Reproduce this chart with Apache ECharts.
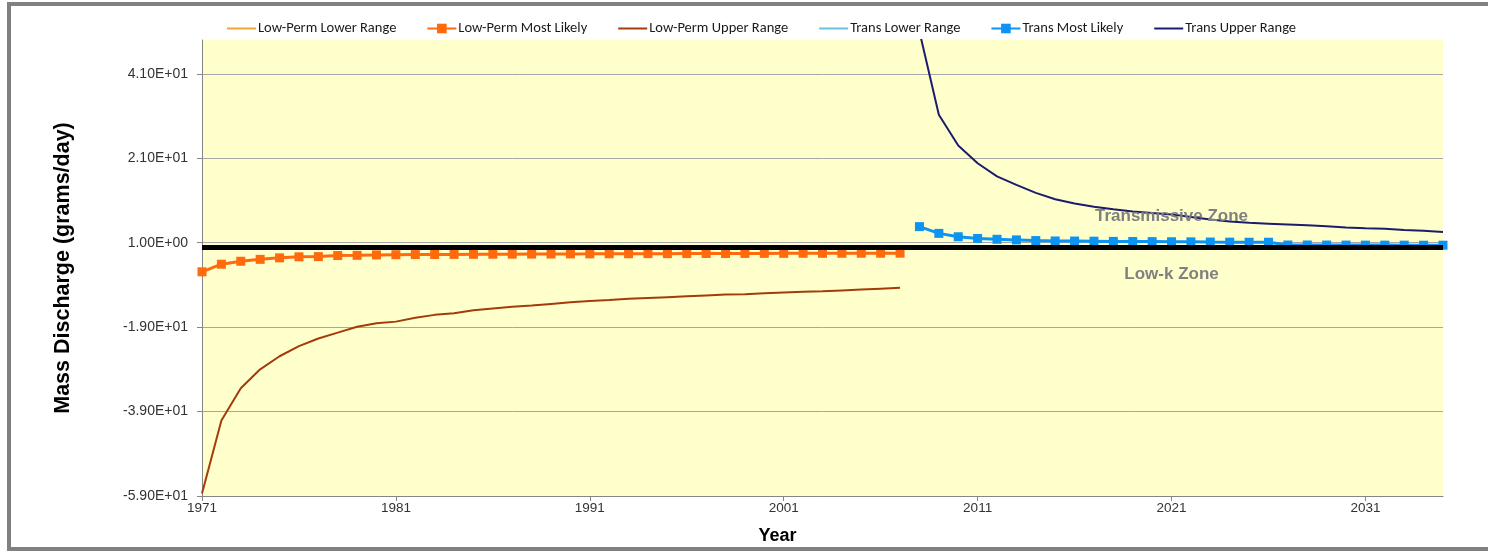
<!DOCTYPE html>
<html>
<head>
<meta charset="utf-8">
<script src="https://cdn.jsdelivr.net/npm/echarts@6/dist/echarts.min.js"></script>
<style>
  html, body { margin: 0; padding: 0; background: #ffffff; }
  #chart { width: 1488px; height: 551px; }
</style>
</head>
<body>
<div id="chart"></div>
<script>
// ---- Data ----
const lowPermYears = [1971,1972,1973,1974,1975,1976,1977,1978,1979,1980,
  1981,1982,1983,1984,1985,1986,1987,1988,1989,1990,
  1991,1992,1993,1994,1995,1996,1997,1998,1999,2000,
  2001,2002,2003,2004,2005,2006,2007];
const transYears = [2008,2009,2010,2011,2012,2013,2014,2015,2016,2017,
  2018,2019,2020,2021,2022,2023,2024,2025,2026,2027,
  2028,2029,2030,2031,2032,2033,2034,2035];

const lowPermLower = [0,0,0,0,0,0,0,0,0,0,0,0,0,0,0,0,0,0,0,0,0,0,0,0,0,0,0,0,0,0,0,0,0,0,0,0,0];
const lowPermMostLikely = [-5.9,-4.1,-3.4,-2.95,-2.6,-2.35,-2.3,-2.05,-2.0,-1.9,
  -1.85,-1.82,-1.8,-1.78,-1.76,-1.74,-1.72,-1.7,-1.68,-1.66,
  -1.65,-1.63,-1.62,-1.6,-1.6,-1.58,-1.57,-1.56,-1.55,-1.54,
  -1.53,-1.52,-1.52,-1.51,-1.5,-1.5,-1.49];
const lowPermUpper = [-58.4,-41.1,-33.5,-29.0,-25.9,-23.5,-21.7,-20.3,-18.9,-18.1,
  -17.7,-16.8,-16.1,-15.7,-15.0,-14.6,-14.2,-13.9,-13.5,-13.1,
  -12.8,-12.6,-12.3,-12.1,-11.9,-11.7,-11.5,-11.3,-11.2,-11.0,
  -10.8,-10.6,-10.5,-10.3,-10.1,-9.9,-9.7];

const transLower = [0,0,0,0,0,0,0,0,0,0,0,0,0,0,0,0,0,0,0,0,0,0,0,0,0,0,0,0];
const transMostLikely = [4.8,3.2,2.4,2.0,1.8,1.65,1.5,1.4,1.38,1.35,
  1.3,1.28,1.25,1.22,1.2,1.15,1.12,1.1,1.1,0.45,
  0.45,0.44,0.43,0.42,0.42,0.41,0.4,0.4];
const transUpper = [51,31.3,24.0,19.8,16.7,14.7,12.8,11.3,10.3,9.5,
  8.9,8.4,8.0,7.7,7.1,6.5,6.0,5.7,5.5,5.3,
  5.1,4.9,4.6,4.4,4.3,4.0,3.8,3.5];

const yTicks = [-59,-39,-19,1,21,41];
const xTickYears = [1971,1981,1991,2001,2011,2021,2031];
const zoneBoundary = 0;
const zoneLabels = [
  { text: 'Transmissive Zone', year: 2021, value: 7.3 },
  { text: 'Low-k Zone', year: 2021, value: -6.4 }
];
const seriesNames = ['Low-Perm Lower Range','Low-Perm Most Likely','Low-Perm Upper Range',
  'Trans Lower Range','Trans Most Likely','Trans Upper Range'];
const seriesHasMarker = [false, true, false, false, true, false];

// ---- helpers ----
function zip(xs, ys) { return xs.map((x, i) => [x, ys[i]]); }
function sci(v) {
  const parts = Number(v).toExponential(2).split('e');
  const n = parseInt(parts[1], 10);
  return parts[0] + 'E' + (n < 0 ? '-' : '+') + String(Math.abs(n)).padStart(2, '0');
}

const legendFont = 'Carlito, Lato, "Liberation Sans", sans-serif';
const axisFont = '"Liberation Sans", Arial, sans-serif';

const chart = echarts.init(document.getElementById('chart'), null, { renderer: 'canvas' });
chart.setOption({
  animation: false,
  backgroundColor: '#ffffff',
  graphic: [{
    type: 'rect',
    shape: { x: 9, y: 4, width: 1500, height: 545 },
    style: { fill: 'none', stroke: '#808080', lineWidth: 4 },
    silent: true
  }],
  legend: {
    left: 221,
    top: 16,
    itemWidth: 29,
    itemHeight: 12,
    itemGap: 30,
    textStyle: { fontFamily: legendFont, fontSize: 14.5, color: '#1a1a1a', padding: [0, 0, 0, -3] },
    data: seriesNames.map((n, i) => seriesHasMarker[i] ? { name: n } : { name: n, itemStyle: { opacity: 0 } })
  },
  grid: {
    left: 202, right: 45, top: 40, bottom: 55,
    show: true, backgroundColor: '#FFFFCC', borderWidth: 0
  },
  xAxis: {
    type: 'value',
    min: 1971, max: 2035, interval: 10,
    name: 'Year',
    nameLocation: 'middle',
    nameGap: 31,
    nameTextStyle: { fontFamily: axisFont, fontWeight: 'bold', fontSize: 18, color: '#000', padding: [0, 90, 0, 0] },
    axisLine: { show: true, onZero: false, lineStyle: { color: '#868686', width: 1 } },
    axisTick: { show: true, length: 5, lineStyle: { color: '#868686' }, customValues: xTickYears },
    axisLabel: {
      fontFamily: axisFont, fontSize: 13.5, color: '#333', margin: 5,
      customValues: xTickYears,
      formatter: v => String(v)
    },
    splitLine: { show: false }
  },
  yAxis: {
    type: 'value',
    min: -59, max: 49, interval: 20,
    name: 'Mass Discharge (grams/day)',
    nameLocation: 'middle',
    nameRotate: 90,
    nameGap: 128,
    nameTextStyle: { fontFamily: axisFont, fontWeight: 'bold', fontSize: 21.5, color: '#000' },
    axisLine: { show: true, lineStyle: { color: '#868686', width: 1 } },
    axisTick: { show: true, length: 5, lineStyle: { color: '#868686' }, customValues: yTicks },
    axisLabel: {
      fontFamily: axisFont, fontSize: 14, color: '#333', margin: 14,
      customValues: yTicks,
      formatter: v => sci(v)
    },
    splitLine: { show: true, lineStyle: { color: '#a6a6a6', width: 1 } }
  },
  series: [
    {
      name: seriesNames[0], type: 'line', z: 1,
      data: zip(lowPermYears, lowPermLower),
      symbol: 'none', lineStyle: { color: '#F4A431', width: 2 }, itemStyle: { color: '#F4A431' }
    },
    {
      name: seriesNames[1], type: 'line', z: 2,
      data: zip(lowPermYears, lowPermMostLikely),
      symbol: 'rect', symbolSize: 9,
      lineStyle: { color: '#FF6A0D', width: 3 }, itemStyle: { color: '#FF6A0D' }
    },
    {
      name: seriesNames[2], type: 'line', z: 2,
      data: zip(lowPermYears, lowPermUpper),
      symbol: 'none', lineStyle: { color: '#A33B0B', width: 2 }, itemStyle: { color: '#A33B0B' },
      markLine: {
        silent: true, symbol: ['none', 'none'], label: { show: false },
        lineStyle: { color: '#000', width: 5, type: 'solid' },
        data: [{ yAxis: zoneBoundary }]
      }
    },
    {
      name: seriesNames[3], type: 'line', z: 1,
      data: zip(transYears, transLower),
      symbol: 'none', lineStyle: { color: '#66C2D9', width: 2 }, itemStyle: { color: '#66C2D9' }
    },
    {
      name: seriesNames[4], type: 'line', z: 3,
      data: zip(transYears, transMostLikely),
      symbol: 'rect', symbolSize: 9,
      lineStyle: { color: '#0D94F2', width: 3 }, itemStyle: { color: '#0D94F2' }
    },
    {
      name: seriesNames[5], type: 'line', z: 2,
      data: zip(transYears, transUpper),
      symbol: 'none', lineStyle: { color: '#1C1C6E', width: 2 }, itemStyle: { color: '#1C1C6E' },
      markPoint: {
        silent: true,
        symbol: 'rect', symbolSize: 1,
        itemStyle: { color: 'rgba(0,0,0,0)' },
        label: {
          show: true, position: 'inside',
          fontFamily: axisFont, fontWeight: 'bold', fontSize: 17, color: '#808080',
          formatter: p => p.name
        },
        data: zoneLabels.map(z => ({ name: z.text, coord: [z.year, z.value] }))
      }
    }
  ]
});
</script>
</body>
</html>
